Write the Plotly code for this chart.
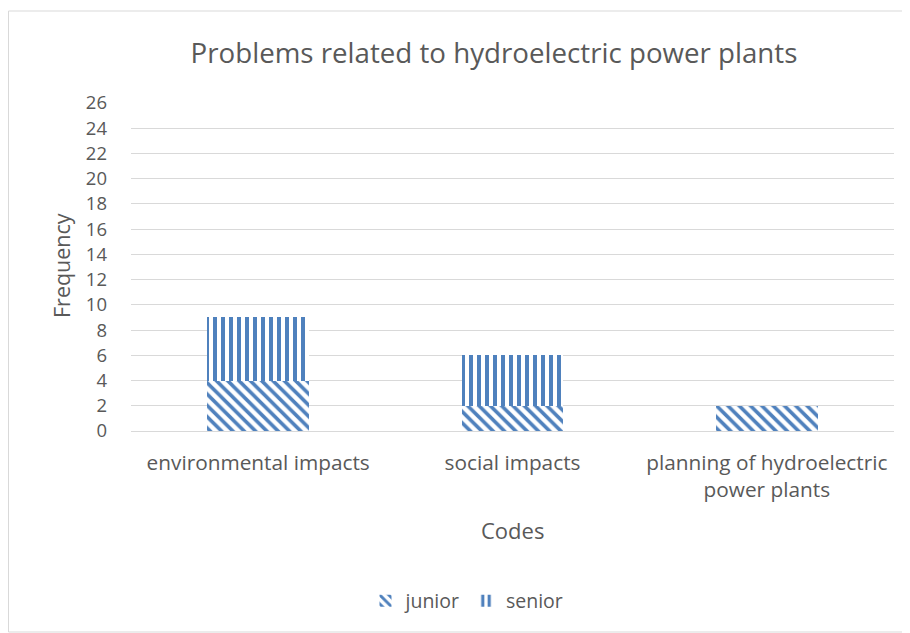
import plotly.graph_objects as go

categories = ["environmental impacts", "social impacts", "planning of hydroelectric<br>power plants"]
junior = [4, 2, 2]
senior = [5, 4, 0]
y_ticks = list(range(0, 27, 2))

BLUE = "#4F81BD"
TXT = "#595959"
FONT = "Open Sans, sans-serif"

fig = go.Figure()
fig.add_trace(go.Bar(
    x=categories, y=junior, name="junior",
    marker=dict(color="white", line=dict(width=0),
                pattern=dict(shape="\\", fgcolor=BLUE, bgcolor="white", size=8, solidity=0.45, fillmode="replace")),
    width=0.4,
))
fig.add_trace(go.Bar(
    x=categories, y=senior, name="senior",
    marker=dict(color="white", line=dict(width=0),
                pattern=dict(shape="|", fgcolor=BLUE, bgcolor="white", size=8, solidity=0.5, fillmode="replace")),
    width=0.4,
))

# page body has an 8px margin, so lay out in reference coords minus 8
OFF = 8
W, H = 910 - OFF, 633 - OFF
L, T = 131 - OFF, 103 - OFF
R = W - (894 - OFF)
B = H - (431 - OFF)
pw, ph = W - L - R, H - T - B

def px_x(x):
    return (x - OFF - L) / pw

def px_y(y):
    return (H - B - (y - OFF)) / ph

fig.update_layout(
    width=W, height=H,
    barmode="stack",
    paper_bgcolor="white", plot_bgcolor="white",
    margin=dict(l=L, r=R, t=T, b=B),
    font=dict(family=FONT, size=20, color=TXT),
    title=dict(text="Problems related to hydroelectric power plants", x=px_x(494), xanchor="center",
               xref="paper", y=1 - (53 - OFF) / H, yanchor="middle", font=dict(size=27.7, color=TXT, family=FONT)),
    showlegend=True,
    legend=dict(orientation="h", x=px_x(467), xanchor="center", y=px_y(601), yanchor="middle",
                font=dict(size=19.5, color=TXT), itemwidth=30, traceorder="normal"),
    xaxis=dict(showgrid=False, showline=False, ticks="", tickfont=dict(size=20.8, color=TXT),
               ticklabelstandoff=17),
    yaxis=dict(range=[0, 26], tickvals=y_ticks, showgrid=True, gridcolor="#D9D9D9", gridwidth=1,
               zeroline=True, zerolinecolor="#D9D9D9", zerolinewidth=1, showline=False, ticks="",
               tickfont=dict(size=18.5, color=TXT), ticklabelstandoff=23),
    annotations=[
        dict(text="Codes", xref="paper", yref="paper", x=px_x(512), y=px_y(530), xanchor="center", yanchor="middle",
             showarrow=False, font=dict(size=22, color=TXT)),
        dict(text="Frequency", xref="paper", yref="paper", x=px_x(61), y=px_y(266), xanchor="center", yanchor="middle",
             textangle=-90, showarrow=False, font=dict(size=21.5, color=TXT)),
    ],
    shapes=[dict(type="rect", xref="paper", yref="paper", x0=px_x(8.5), x1=px_x(909), y0=px_y(632), y1=px_y(11),
                 line=dict(color="#D9D9D9", width=1), layer="below")],
)

fig.write_html("out.html")
